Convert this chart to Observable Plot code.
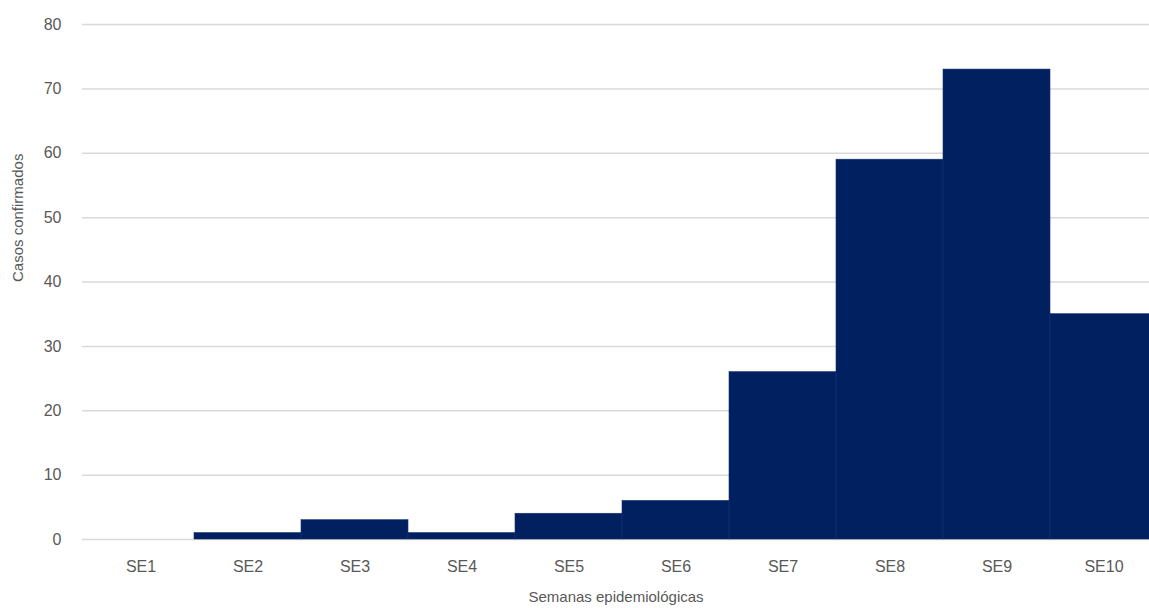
<!DOCTYPE html>
<html>
<head>
<meta charset="utf-8">
<script src="https://cdn.jsdelivr.net/npm/d3@7"></script>
<script src="https://cdn.jsdelivr.net/npm/@observablehq/plot@0.6"></script>
<style>
  html, body { margin: 0; padding: 0; background: #fff; overflow: hidden; }
  svg { display: block; }
</style>
</head>
<body>
<div id="chart" style="width:1149px;overflow:hidden;"></div>
<script>
const weeks = ["SE1","SE2","SE3","SE4","SE5","SE6","SE7","SE8","SE9","SE10"];
const cases = [0, 1, 3, 1, 4, 6, 26, 59, 73, 35];
const yTicks = [0, 10, 20, 30, 40, 50, 60, 70, 80];

const data = weeks.map((w, i) => ({week: w, value: cases[i]}));

const chart = Plot.plot({
  width: 1149,
  height: 608,
  marginTop: 24,
  marginBottom: 69,
  marginLeft: 82,
  marginRight: 0,
  style: {fontFamily: "Liberation Sans, Arial, sans-serif", fontSize: "16px", color: "#595959", overflow: "hidden"},
  x: {domain: weeks, padding: 0, range: [82, 1161.5], label: null},
  y: {domain: [0, 80], label: null},
  marks: [
    Plot.ruleY(yTicks, {stroke: "#d9d9d9", strokeWidth: 1.5}),
    Plot.barY(data, {x: "week", y: "value", fill: "#002060", stroke: "#1a3570", strokeWidth: 0.6}),
    Plot.axisX({tickSize: 0, tickPadding: 21, fontSize: 16, label: null}),
    Plot.axisY(yTicks, {tickSize: 0, tickPadding: 21, fontSize: 16, label: null}),
    Plot.text(["Semanas epidemiológicas"], {frameAnchor: "bottom", dx: 0, dy: 62, fontSize: 15, fill: "#595959"}),
    Plot.text(["Casos confirmados"], {frameAnchor: "left", dx: -64, rotate: -90, fontSize: 15, fill: "#595959"})
  ]
});
document.getElementById("chart").appendChild(chart);
</script>
</body>
</html>
